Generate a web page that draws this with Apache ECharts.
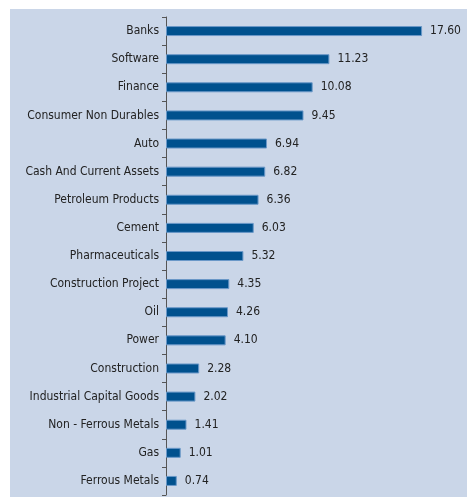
<!DOCTYPE html>
<html><head><meta charset="utf-8">
<script src="https://cdn.jsdelivr.net/npm/echarts@6/dist/echarts.min.js"></script>
<style>html,body{margin:0;padding:0;background:#fff}#c{width:467px;height:497px}</style>
</head><body><div id="c"></div>
<script>
const categories = ["Banks","Software","Finance","Consumer Non Durables","Auto","Cash And Current Assets","Petroleum Products","Cement","Pharmaceuticals","Construction Project","Oil","Power","Construction","Industrial Capital Goods","Non - Ferrous Metals","Gas","Ferrous Metals"];
const values = [17.60,11.23,10.08,9.45,6.94,6.82,6.36,6.03,5.32,4.35,4.26,4.10,2.28,2.02,1.41,1.01,0.74];
const FONT = '"DejaVu Sans Condensed", "Liberation Sans", sans-serif';
const chart = echarts.init(document.getElementById('c'), null, {renderer:'canvas'});
chart.setOption({
  animation:false,
  backgroundColor:'#ffffff',
  graphic:[{type:'rect', shape:{x:10,y:9,width:457,height:488}, style:{fill:'#cad6e8'}, z:-10, silent:true}],
  grid:{left:166, top:17, bottom:2, right:10, containLabel:false},
  xAxis:{type:'value', min:0, max:20, show:false},
  yAxis:{type:'category', data:categories, inverse:true,
    axisLine:{show:true, lineStyle:{color:'#555', width:1}},
    axisTick:{show:true, length:4, lineStyle:{color:'#555'}},
    axisLabel:{color:'#222', fontFamily:FONT, fontSize:12, margin:7},
    splitLine:{show:false}},
  series:[{type:'bar', data:values, barWidth:10,
    itemStyle:{color:'#00518e', borderColor:'#6a98c8', borderWidth:1},
    label:{show:true, position:'right', distance:8, color:'#222', fontFamily:FONT, fontSize:12,
      formatter:p=>p.value.toFixed(2)}}]
});
</script></body></html>
